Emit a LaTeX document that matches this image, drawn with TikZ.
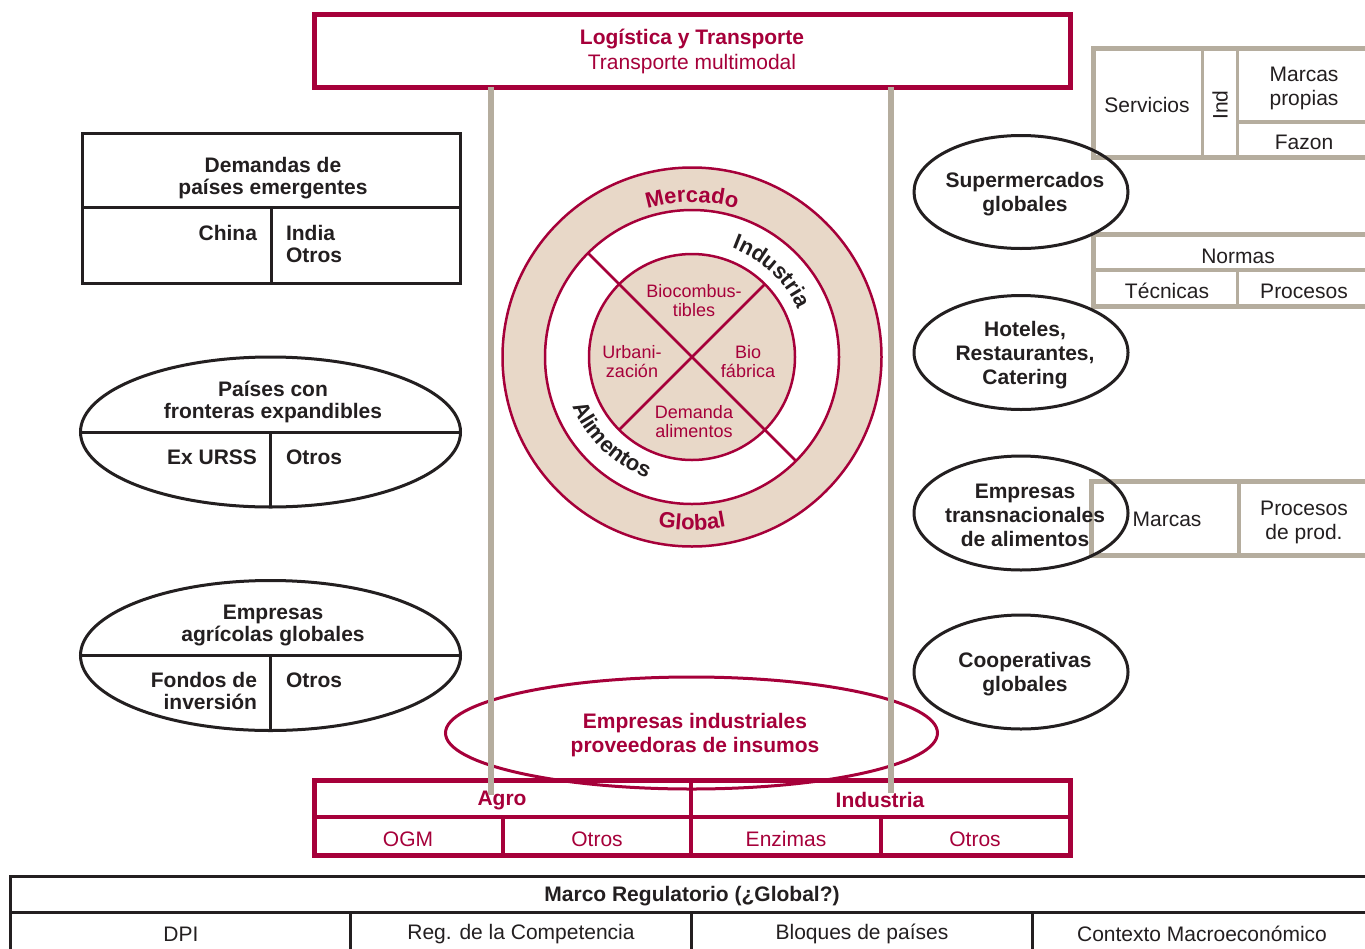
\documentclass[tikz,border=0pt]{standalone}
\usepackage{fontspec}
\setmainfont{Liberation Sans}
\usetikzlibrary{decorations.text,shapes.geometric}
\definecolor{crim}{RGB}{166,0,58}
\definecolor{beige}{RGB}{232,216,200}
\definecolor{greyb}{RGB}{181,173,158}
\definecolor{ink}{RGB}{35,31,32}
\newcommand{\myfr}{\fontsize{21}{22}\selectfont}
\newcommand{\myfrr}{\fontsize{21}{24}\selectfont}
\newcommand{\ringfont}{\fontsize{22}{22}\selectfont\bfseries}
\begin{document}
\begin{tikzpicture}[x=1pt,y=-1pt,
 every node/.style={inner sep=0pt,outer sep=0pt},
 tx/.style={yshift=-2pt},
 rg/.style={tx, font=\myfr, text=ink, align=center},
 bd/.style={tx, font=\myfr\bfseries, text=ink, align=center},
 bdr/.style={tx, font=\myfrr\bfseries, text=ink, align=center},
 rgr/.style={tx, font=\myfrr, text=ink, align=center},
 rgc/.style={tx, font=\myfr, text=crim, align=center},
 bdc/.style={tx, font=\myfrr\bfseries, text=crim, align=center},
 ins/.style={yshift=-1pt, font=\fontsize{18}{19}\selectfont, text=crim, align=center},
 blk/.style={draw=ink, line width=3},
 gry/.style={draw=greyb, line width=5},
 gryi/.style={draw=greyb, line width=3.5},
 crm/.style={draw=crim, line width=5},
 crmi/.style={draw=crim, line width=4},
 crl/.style={draw=crim, line width=2.5},
]
\clip (0,0) rectangle (1365,948);
\fill[white] (0,0) rectangle (1365,948);

% ---------- central circle ----------
\node[circle, crl, fill=beige, minimum size=379] (mring) at (692,357) {};
\node[circle, crl, fill=white, minimum size=294] (wring) at (692,357) {};
\node[circle, crl, fill=beige, minimum size=206] (core) at (692,357) {};
\draw[crl] (wring.135) -- (wring.-45);
\draw[crl] (core.45) -- (core.-135);
\node[ins] (bioc) at (694,300) {Biocombus-\\tibles};
\node[ins] (urb) at (632,361) {Urbani-\\zación};
\node[ins] (biof) at (748,361) {Bio\\fábrica};
\node[ins] (dema) at (694,421) {Demanda\\alimentos};

\path[decorate, decoration={text along path, text align=center,
  text={|\ringfont\color{crim}|Mercado}}]
  (692,357) ++(-130:155) arc[start angle=-130, end angle=-50, radius=155];
\path[decorate, decoration={text along path, text align=center,
  text={|\ringfont\color{crim}|Global}}]
  (692,357) ++(-230:173) arc[start angle=-230, end angle=-310, radius=173];
\path[decorate, decoration={text along path, text align=center,
  text={|\ringfont\color{ink}|Industria}}]
  (692,357) ++(-87:116) arc[start angle=-87, end angle=-7, radius=116];
\path[decorate, decoration={text along path, text align=center,
  text={|\ringfont\color{ink}|Alimentos}}]
  (692,357) ++(-186:129) arc[start angle=-186, end angle=-266, radius=129];

% ---------- left side ----------
\node[rectangle, blk, minimum width=378.5, minimum height=150] (dmd) at (271.25,208.5) {};
\coordinate (dl) at (82,207.5);
\coordinate (dr) at (460.5,207.5);
\coordinate (dm) at (271.5,207.5);
\coordinate (db) at (271.5,283.5);
\draw[blk] (dl) -- (dr);
\draw[blk] (dm) -- (db);
\node[bd] (dmdt) at (273,176) {Demandas de\\países emergentes};
\node[bd, anchor=east] (china) at (257,231) {China};
\node[bd, anchor=west, align=left] (india) at (286,241.5) {India\\Otros};

\node[ellipse, blk, minimum width=380, minimum height=150] (pais) at (270.5,432) {};
\draw[blk] (pais.west) -- (pais.east);
\draw[blk] (pais.center) -- (pais.south);
\node[bd] (paist) at (273,400) {Países con\\fronteras expandibles};
\node[bd, anchor=east] (urss) at (257,455) {Ex URSS};
\node[bd, anchor=west] (otr1) at (286,455) {Otros};

\node[ellipse, blk, minimum width=380, minimum height=150] (agr) at (270.5,655.5) {};
\draw[blk] (agr.west) -- (agr.east);
\draw[blk] (agr.center) -- (agr.south);
\node[bd] (agrt) at (273,623) {Empresas\\agrícolas globales};
\node[bd, anchor=east, align=right] (fond) at (257,688.5) {Fondos de\\inversión};
\node[bd, anchor=west] (otr2) at (286,678) {Otros};

% ---------- right grey tables ----------
\draw[gry] (1093,48) rectangle (1400,157.5);
\draw[gryi] (1202.5,48) -- (1202.5,157.5);
\draw[gryi] (1237.5,48) -- (1237.5,157.5);
\draw[gryi] (1237.5,122) -- (1400,122);
\node[rg] (serv) at (1147,103) {Servicios};
\node[rg, rotate=90] (ind) at (1220,103) {Ind};
\node[rgr] (mp) at (1304,86.5) {Marcas\\propias};
\node[rg] (faz) at (1304,140) {Fazon};

\draw[gry] (1093,234.5) rectangle (1400,306);
\draw[gryi] (1093,270) -- (1400,270);
\draw[gryi] (1237.5,270) -- (1237.5,306);
\node[rg] (norm) at (1238,254) {Normas};
\node[rg] (tec) at (1167,289) {Técnicas};
\node[rg] (proc) at (1304,289) {Procesos};

\draw[gry] (1091,481.5) rectangle (1400,555.5);
\draw[gryi] (1239,481.5) -- (1239,555.5);
\node[rg] (marc) at (1167,517) {Marcas};
\node[rgr] (procp) at (1304,520) {Procesos\\de prod.};

% ---------- right ellipses ----------
\node[ellipse, blk, minimum width=214, minimum height=113] (sup) at (1021,192) {};
\node[bdr] (supt) at (1025,192) {Supermercados\\globales};
\node[ellipse, blk, minimum width=214, minimum height=114] (hot) at (1021,352.5) {};
\node[bdr] (hott) at (1025,353) {Hoteles,\\Restaurantes,\\Catering};
\node[ellipse, blk, minimum width=214, minimum height=114] (etn) at (1021,513) {};
\node[bdr] (etnt) at (1025,513) {Empresas\\transnacionales\\de alimentos};
\node[ellipse, blk, minimum width=214, minimum height=114] (coop) at (1021,672) {};
\node[bdr] (coopt) at (1025,672) {Cooperativas\\globales};

% ---------- bottom Agro / Industria ----------
\node[rectangle, crm, minimum width=756, minimum height=75] (agbox) at (692,818) {};
\draw[crmi] (314,817) -- (1070,817);
\draw[crmi] (691,780.5) -- (691,855.5);
\draw[crmi] (503,817) -- (503,855.5);
\draw[crmi] (881,817) -- (881,855.5);
\node[tx, font=\myfr\bfseries, text=crim] (agro) at (502,798) {Agro};
\node[tx, font=\myfr\bfseries, text=crim] (indu) at (880,798) {Industria};
\node[rgc] (ogm) at (408,837) {OGM};
\node[rgc] (otr3) at (597,837) {Otros};
\node[rgc] (enz) at (786,837) {Enzimas};
\node[rgc] (otr4) at (975,837) {Otros};

\node[ellipse, draw=crim, line width=3, minimum width=492, minimum height=112] (eind) at (691.5,733) {};
\node[bdc] (eindt) at (695,733) {Empresas industriales\\proveedoras de insumos};

% ---------- top box and bars ----------
\node[rectangle, crm, minimum width=756, minimum height=73] (top) at (692.5,50.5) {};
\node[tx, font=\myfr\bfseries, text=crim] (lt) at (692,37) {Logística y Transporte};
\node[tx, font=\myfr, text=crim] (tm) at (692,62) {Transporte multimodal};
\coordinate (b1t) at (491,87);
\coordinate (b1b) at (491,795);
\coordinate (b2t) at (891,87);
\coordinate (b2b) at (891,793);
\draw[greyb, line width=6] (b1t) -- (b1b);
\draw[greyb, line width=6] (b2t) -- (b2b);

% ---------- Marco regulatorio ----------
\draw[blk] (1400,876.5) -- (10.5,876.5) -- (10.5,960);
\draw[blk] (10.5,912) -- (1400,912);
\draw[blk] (350,912) -- (350,960);
\draw[blk] (691,912) -- (691,960);
\draw[blk] (1032,912) -- (1032,960);
\node[bd] (marco) at (692,894) {Marco Regulatorio (¿Global?)};
\node[rg] (dpi) at (181,932) {DPI};
\node[rg] (regc) at (521,932) {Reg. de la Competencia};
\node[rg] (bloq) at (862,932) {Bloques de países};
\node[rg] (ctx) at (1202,932) {Contexto Macroeconómico};
\end{tikzpicture}
\end{document}
